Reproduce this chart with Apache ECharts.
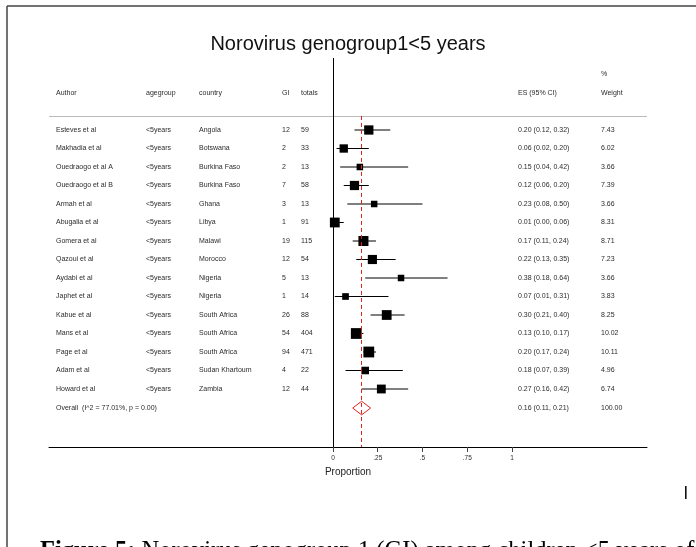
<!DOCTYPE html>
<html>
<head>
<meta charset="utf-8">
<script src="https://cdn.jsdelivr.net/npm/echarts@6/dist/echarts.min.js"></script>
<style>
html,body{margin:0;padding:0;background:#fff;}
#main{width:696px;height:547px;}
</style>
</head>
<body>
<div id="main"></div>
<script>
// study rows
const authors = ['Esteves et al','Makhadia et al','Ouedraogo et al A','Ouedraogo et al B','Armah et al','Abugalia et al','Gomera et al','Qazoui et al','Aydabi et al','Japhet et al','Kabue et al','Mans et al','Page et al','Adam et al','Howard et al'];
const agegroups = ['<5years','<5years','<5years','<5years','<5years','<5years','<5years','<5years','<5years','<5years','<5years','<5years','<5years','<5years','<5years'];
const countries = ['Angola','Botswana','Burkina Faso','Burkina Faso','Ghana','Libya','Malawi','Morocco','Nigeria','Nigeria','South Africa','South Africa','South Africa','Sudan Khartoum','Zambia'];
const giCounts = [12,2,2,7,3,1,19,12,5,1,26,54,94,4,12];
const totals = [59,33,13,58,13,91,115,54,13,14,88,404,471,22,44];
const es = [0.20,0.06,0.15,0.12,0.23,0.01,0.17,0.22,0.38,0.07,0.30,0.13,0.20,0.18,0.27];
const ciLow = [0.12,0.02,0.04,0.06,0.08,0.00,0.11,0.13,0.18,0.01,0.21,0.10,0.17,0.07,0.16];
const ciHigh = [0.32,0.20,0.42,0.20,0.50,0.06,0.24,0.35,0.64,0.31,0.40,0.17,0.24,0.39,0.42];
const weights = [7.43,6.02,3.66,7.39,3.66,8.31,8.71,7.23,3.66,3.83,8.25,10.02,10.11,4.96,6.74];

// overall (pooled) row
const overallLabel = 'Overall  (I^2 = 77.01%, p = 0.00)';
const overallES = 0.16, overallLow = 0.11, overallHigh = 0.21, overallWeight = 100.00;

// x axis ticks
const tickValues = [0, 0.25, 0.5, 0.75, 1];
const tickLabels = ['0', '.25', '.5', '.75', '1'];

const FONT = 'Liberation Sans, Arial, sans-serif';
const SERIF = 'Liberation Serif, Times New Roman, serif';
const TXT = '#2b2b2b';
const FS = 7;

// layout (pixels)
const gridLeft = 49, gridRight = 49, gridTop = 58, gridBottom = 100;
const zeroX = 333, unitX = 179;      // px of 0 and px per 1.0
const row0Y = 130, rowH = 18.5;      // px of first row, px per row
const xMin = -(zeroX - gridLeft) / unitX;
const xMax = (696 - gridRight - zeroX) / unitX;
const yMin = -(row0Y - gridTop) / rowH;
const yMax = (547 - gridBottom - row0Y) / rowH;
const overallRow = 15.03;
const sepRow = -0.76;

const col = {author: 56, age: 146, country: 199, gi: 282, tot: 301, es: 518, w: 601};

function fmt(v) { return v.toFixed(2); }
function esText(e, l, h) { return fmt(e) + ' (' + fmt(l) + ', ' + fmt(h) + ')'; }

function txt(x, y, s) {
    return {type: 'text', x: x, y: y, style: {text: s, fill: TXT, fontSize: FS, fontFamily: FONT, verticalAlign: 'middle', align: 'left'}};
}
function head(x, y, s) {
    return {type: 'text', x: x, y: y, style: {text: s, fill: TXT, fontSize: FS, fontFamily: FONT, verticalAlign: 'middle'}};
}

const tableData = authors.map((a, i) => [0, i]);
tableData.push([0, overallRow]);

const chart = echarts.init(document.getElementById('main'));

const option = {
    animation: false,
    title: {
        text: 'Norovirus genogroup1<5 years',
        left: 'center',
        top: 29,
        textStyle: {fontFamily: FONT, fontSize: 20, fontWeight: 'normal', color: '#111'}
    },
    grid: {left: gridLeft, right: gridRight, top: gridTop, bottom: gridBottom},
    xAxis: {
        type: 'value',
        min: xMin,
        max: xMax,
        splitLine: {show: false},
        axisLine: {show: true, onZero: false, lineStyle: {color: '#000', width: 1}},
        axisTick: {show: true, customValues: tickValues, length: 5, lineStyle: {color: '#444'}},
        axisLabel: {
            customValues: tickValues,
            margin: 8,
            fontSize: 6.5,
            fontFamily: FONT,
            color: TXT,
            formatter: v => tickLabels[tickValues.indexOf(v)] || ''
        },
        name: 'Proportion',
        nameLocation: 'middle',
        nameGap: 15,
        nameTextStyle: {fontSize: 10, fontFamily: FONT, color: '#222'}
    },
    yAxis: {
        type: 'value',
        inverse: true,
        min: yMin,
        max: yMax,
        show: false
    },
    graphic: [
        // page frame
        {type: 'line', shape: {x1: 7, y1: 6, x2: 696, y2: 6}, style: {stroke: '#444', lineWidth: 1.5}},
        {type: 'line', shape: {x1: 7, y1: 6, x2: 7, y2: 547}, style: {stroke: '#444', lineWidth: 1.5}},
        // column headers
        head(col.author, 93, 'Author'),
        head(col.age, 93, 'agegroup'),
        head(col.country, 93, 'country'),
        head(col.gi, 93, 'GI'),
        head(col.tot, 93, 'totals'),
        head(col.es, 93, 'ES (95% CI)'),
        head(col.w, 74, '%'),
        head(col.w, 93, 'Weight'),
        // stray document mark and caption
        {type: 'rect', shape: {x: 685, y: 486, width: 1.6, height: 13}, style: {fill: '#111'}},
        {type: 'text', x: 40, y: 539, style: {
            text: '{b|Figure 5:} Norovirus genogroup 1 (GI) among children <5 years of',
            fill: '#000', fontSize: 24.5, fontFamily: SERIF, verticalAlign: 'top',
            rich: {b: {fontWeight: 'bold', fontSize: 24.5, fontFamily: SERIF}}
        }}
    ],
    series: [
        {
            // table text per row
            type: 'custom',
            silent: true,
            data: tableData,
            renderItem: (params, api) => {
                const i = params.dataIndex;
                const y = api.coord([0, api.value(1)])[1];
                if (i === authors.length) {
                    return {type: 'group', children: [
                        txt(col.author, y, overallLabel),
                        txt(col.es, y, esText(overallES, overallLow, overallHigh)),
                        txt(col.w, y, overallWeight.toFixed(2))
                    ]};
                }
                return {type: 'group', children: [
                    txt(col.author, y, authors[i]),
                    txt(col.age, y, agegroups[i]),
                    txt(col.country, y, countries[i]),
                    txt(col.gi, y, String(giCounts[i])),
                    txt(col.tot, y, String(totals[i])),
                    txt(col.es, y, esText(es[i], ciLow[i], ciHigh[i])),
                    txt(col.w, y, weights[i].toFixed(2))
                ]};
            },
            markLine: {
                silent: true,
                symbol: 'none',
                label: {show: false},
                lineStyle: {color: '#bbb', width: 1, type: 'solid'},
                data: [[{coord: [xMin, sepRow]}, {coord: [xMax, sepRow]}]]
            },
            z: 3
        },
        {
            // CI lines + weighted squares
            type: 'custom',
            silent: true,
            data: es.map((v, i) => [v, i]),
            renderItem: (params, api) => {
                const i = params.dataIndex;
                const p = api.coord([es[i], i]);
                const l = api.coord([ciLow[i], i]);
                const h = api.coord([ciHigh[i], i]);
                const s = 3.4 * Math.sqrt(weights[i]);
                return {type: 'group', children: [
                    {type: 'line', shape: {x1: l[0], y1: l[1], x2: h[0], y2: h[1]}, style: {stroke: '#000', lineWidth: 1}},
                    {type: 'rect', shape: {x: p[0] - s / 2, y: p[1] - s / 2, width: s, height: s}, style: {fill: '#000'}}
                ]};
            },
            markLine: {
                silent: true,
                symbol: 'none',
                label: {show: false},
                data: [
                    {xAxis: 0, lineStyle: {color: '#000', width: 1, type: 'solid'}},
                    [{coord: [overallES, sepRow], lineStyle: {color: '#e3201b', width: 1, type: [4, 3]}}, {coord: [overallES, yMax]}]
                ]
            },
            z: 4
        },
        {
            // pooled diamond
            type: 'custom',
            silent: true,
            data: [[overallES, overallRow]],
            renderItem: (params, api) => {
                const half = 0.37;
                const pts = [
                    api.coord([overallLow, overallRow]),
                    api.coord([overallES, overallRow - half]),
                    api.coord([overallHigh, overallRow]),
                    api.coord([overallES, overallRow + half])
                ];
                return {type: 'polygon', shape: {points: pts}, style: {fill: 'rgba(255,255,255,0)', stroke: '#e3201b', lineWidth: 1}};
            },
            z: 5
        }
    ]
};

chart.setOption(option);
</script>
</body>
</html>
